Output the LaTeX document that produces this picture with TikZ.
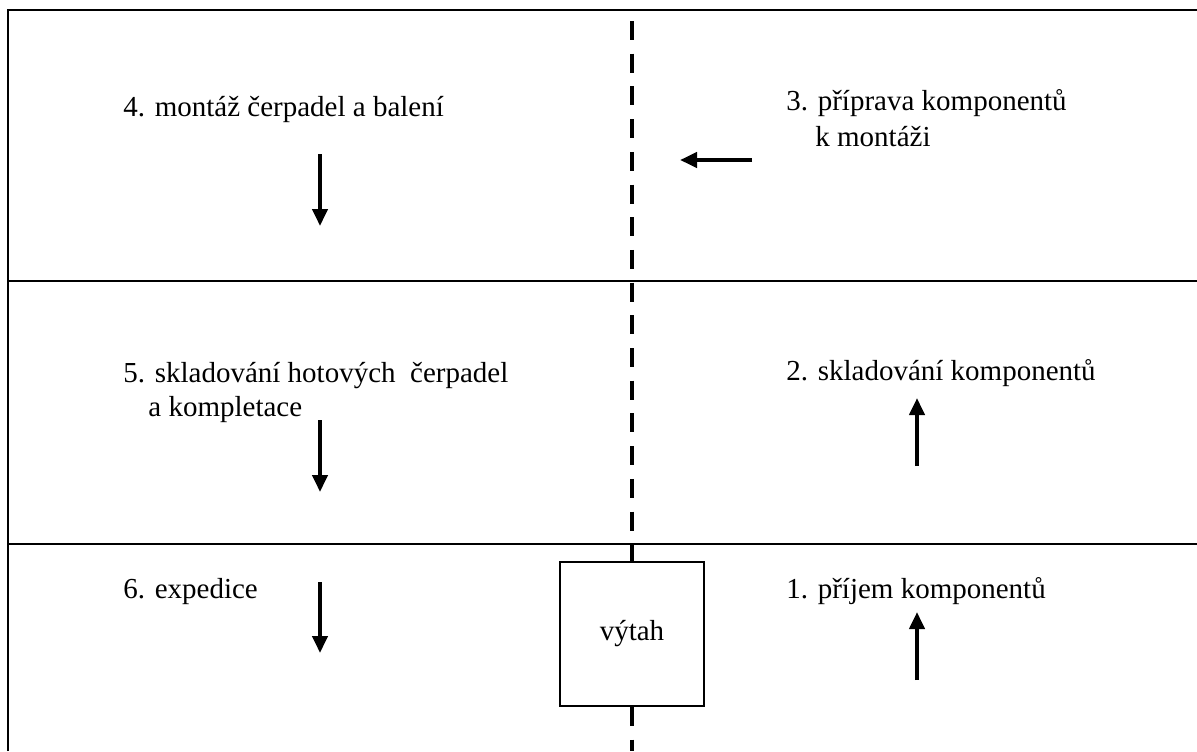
\documentclass[tikz,border=0pt]{standalone}
\usepackage{fontspec}
\setmainfont{Liberation Serif}
\usetikzlibrary{arrows.meta}
\begin{document}
\begin{tikzpicture}[x=0.5pt,y=-0.5pt,
  frame/.style={line width=1pt},
  axis/.style={line width=2.1pt,dash pattern=on 9.5pt off 6.85pt},
  flow/.style={line width=2pt,-{Triangle[length=8.5pt,width=7.5pt]}},
  label/.style={anchor=base west,inner sep=0pt,font=\fontsize{14.5}{16.5}\selectfont},
  liftbox/.style={draw,line width=1pt,minimum width=72pt,minimum height=72pt,inner sep=0pt,font=\fontsize{14.5}{16.5}\selectfont}]
  \useasboundingbox (0,0) rectangle (1197,751);
  % outer frame and floor dividers
  \coordinate (tl) at (8,10);
  \coordinate (tr) at (1197,10);
  \coordinate (bl) at (8,751);
  \coordinate (m1l) at (8,281);
  \coordinate (m1r) at (1197,281);
  \coordinate (m2l) at (8,544);
  \coordinate (m2r) at (1197,544);
  \draw[frame] (bl) -- (tl) -- (tr);
  \draw[frame] (m1l) -- (m1r);
  \draw[frame] (m2l) -- (m2r);
  % lift box and the dashed axis through it
  \node[liftbox] (lift) at (632,634) {výtah};
  \coordinate (axtop) at (632,21);
  \coordinate (axbot) at (632,751);
  \draw[axis] (axtop) -- (lift.north);
  \draw[axis] (lift.south) -- (axbot);
  % labels
  \node[label] (t4) at (123,116) {4. montáž čerpadel a balení};
  \node[label] (t3) at (786,110) {3. příprava komponentů};
  \node[label] (t3b) at (815,146) {k montáži};
  \node[label] (t5) at (123,382) {5. skladování hotových\ \ čerpadel};
  \node[label] (t5b) at (148,416) {a kompletace};
  \node[label] (t2) at (786,380) {2. skladování komponentů};
  \node[label] (t6) at (123,598) {6. expedice};
  \node[label] (t1) at (786,598) {1. příjem komponentů};
  % flow arrows
  \coordinate (a4s) at (320,154); \coordinate (a4e) at (320,226);
  \coordinate (a3s) at (752,160); \coordinate (a3e) at (680,160);
  \coordinate (a5s) at (320,420); \coordinate (a5e) at (320,492);
  \coordinate (a2s) at (917,466); \coordinate (a2e) at (917,398);
  \coordinate (a6s) at (320,582); \coordinate (a6e) at (320,653);
  \coordinate (a1s) at (917,680); \coordinate (a1e) at (917,612);
  \draw[flow] (a4s) -- (a4e);
  \draw[flow] (a3s) -- (a3e);
  \draw[flow] (a5s) -- (a5e);
  \draw[flow] (a2s) -- (a2e);
  \draw[flow] (a6s) -- (a6e);
  \draw[flow] (a1s) -- (a1e);
\end{tikzpicture}
\end{document}
